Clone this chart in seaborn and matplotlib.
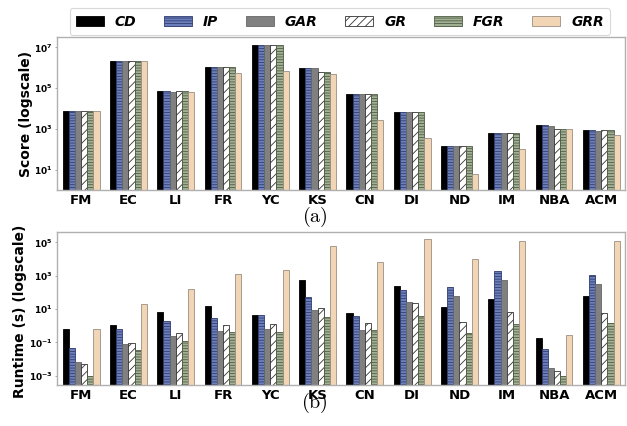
import numpy as np
import pandas as pd
import matplotlib
matplotlib.use("Agg")
import matplotlib.pyplot as plt
import seaborn as sns
from matplotlib.patches import Patch
from matplotlib.ticker import FuncFormatter, NullLocator

datasets = ["FM", "EC", "LI", "FR", "YC", "KS", "CN", "DI", "ND", "IM", "NBA", "ACM"]
methods = ["CD", "IP", "GAR", "GR", "FGR", "GRR"]

score_CD  = [7.8e3, 2.2e6, 7.2e4, 1.05e6, 1.3e7, 1.0e6, 5.3e4, 6.9e3, 145, 630, 1500, 890]
score_IP  = [7.8e3, 2.2e6, 7.2e4, 1.05e6, 1.3e7, 1.0e6, 5.3e4, 6.9e3, 145, 630, 1500, 870]
score_GAR = [7.8e3, 2.2e6, 6.5e4, 1.05e6, 1.3e7, 1.0e6, 5.3e4, 6.9e3, 145, 630, 1350, 800]
score_GR  = [7.8e3, 2.2e6, 7.2e4, 1.05e6, 1.3e7, 6.3e5, 5.3e4, 6.9e3, 145, 630, 1020, 890]
score_FGR = [7.8e3, 2.2e6, 7.2e4, 1.05e6, 1.3e7, 6.3e5, 5.3e4, 6.9e3, 145, 630, 1000, 870]
score_GRR = [7.8e3, 2.2e6, 6.5e4, 5.5e5, 6.6e5, 5.1e5, 2.6e3, 350, 5.9, 100, 1020, 520]

time_CD  = [0.67, 1.1, 6.5, 15, 4.3, 570, 5.9, 240, 13, 40, 0.17, 63]
time_IP  = [0.045, 0.62, 2.0, 2.8, 4.3, 52, 3.9, 145, 210, 1800, 0.039, 1100]
time_GAR = [0.0067, 0.085, 0.23, 0.47, 0.67, 8.6, 0.56, 26, 60, 550, 0.0028, 315]
time_GR  = [0.0047, 0.09, 0.34, 1.07, 1.2, 11, 1.35, 23, 1.6, 6.5, 0.0019, 5.6]
time_FGR = [0.001, 0.034, 0.12, 0.41, 0.41, 3.1, 0.54, 3.9, 0.37, 1.2, 0.001, 1.5]
time_GRR = [0.67, 21, 165, 1260, 2100, 57000, 6900, 150000, 10000, 120000, 0.27, 120000]

scores = [score_CD, score_IP, score_GAR, score_GR, score_FGR, score_GRR]
times = [time_CD, time_IP, time_GAR, time_GR, time_FGR, time_GRR]

def long_df(vals):
    rows = []
    for m, v in zip(methods, vals):
        for d, x in zip(datasets, v):
            rows.append({"dataset": d, "method": m, "value": x})
    return pd.DataFrame(rows)

face = {"CD": "#000000", "IP": "#6d80bd", "GAR": "#808080", "GR": "#ffffff",
        "FGR": "#a3b294", "GRR": "#f2d5b4"}
edge = {"CD": "#000000", "IP": "#2f3d70", "GAR": "#666666", "GR": "#333333",
        "FGR": "#4f5c45", "GRR": "#9a8f84"}
hatch = {"CD": "", "IP": "------", "GAR": "", "GR": "////", "FGR": "------", "GRR": ""}

sns.set_style("white")
plt.rcParams.update({
    "mathtext.fontset": "dejavusans",
    "hatch.linewidth": 0.6,
    "text.color": "black",
    "axes.labelcolor": "black",
    "xtick.color": "black",
    "ytick.color": "black",
})

fig = plt.figure(figsize=(6.27, 4.26), dpi=100)
ax1 = fig.add_axes([0.0917, 0.554, 0.905, 0.3585])
ax2 = fig.add_axes([0.0917, 0.0962, 0.905, 0.3585])

def pow_fmt(v, pos):
    e = int(round(np.log10(v)))
    return r"$\mathbf{10^{%d}}$" % e

def draw(ax, vals, ylim, yticks, ylabel):
    df = long_df(vals)
    sns.barplot(data=df, x="dataset", y="value", hue="method", order=datasets,
                hue_order=methods, palette=face, ax=ax, legend=False,
                width=0.78, log_scale=(False, True), errorbar=None, saturation=1)
    for m, cont in zip(methods, ax.containers):
        for p in cont:
            p.set_edgecolor(edge[m])
            p.set_linewidth(0.6)
            p.set_hatch(hatch[m])
    ax.set_yscale("log")
    ax.set_ylim(*ylim)
    ax.set_yticks(yticks)
    ax.yaxis.set_major_formatter(FuncFormatter(pow_fmt))
    ax.yaxis.set_minor_locator(NullLocator())
    ax.set_xlim(-0.5, len(datasets) - 0.5)
    ax.set_xlabel("")
    ax.set_ylabel(ylabel, fontsize=10, fontweight="bold")
    ax.tick_params(axis="x", labelsize=9.5, length=0, pad=3)
    ax.tick_params(axis="y", labelsize=6.5, length=1.5, width=0.6, pad=2, left=True,
                   color="#999999", labelcolor="black")
    for lab in ax.get_xticklabels():
        lab.set_fontweight("bold")
    for s in ax.spines.values():
        s.set_color("#b0b0b0")
        s.set_linewidth(1.0)

draw(ax1, scores, (1.0, 10**7.5), [1e1, 1e3, 1e5, 1e7], "Score (logscale)")
draw(ax2, times, (10**-3.56, 10**5.6), [1e-3, 1e-1, 1e1, 1e3, 1e5], "Runtime (s) (logscale)")
ax1.yaxis.set_label_coords(-0.043, 0.5)
ax2.yaxis.set_label_coords(-0.054, 0.48)

fig.text(0.502, 0.491, r"$\mathrm{(a)}$", ha="center", va="center", fontsize=14.5,
         math_fontfamily="cm")
fig.text(0.502, 0.053, r"$\mathrm{(b)}$", ha="center", va="center", fontsize=14.5,
         math_fontfamily="cm")

handles = [Patch(facecolor=face[m], edgecolor=edge[m], hatch=hatch[m], linewidth=0.6, label=m)
           for m in methods]
leg = fig.legend(handles=handles, loc="center", bbox_to_anchor=(0.542, 0.949), ncol=6,
                 frameon=True, fancybox=True, handlelength=2.0, handleheight=0.7,
                 columnspacing=2.0, handletextpad=0.8, borderpad=0.45,
                 prop={"weight": "bold", "style": "italic", "size": 10})
leg.get_frame().set_edgecolor("#d0d0d0")
leg.get_frame().set_linewidth(0.8)

fig.savefig("out.png", dpi=100)
